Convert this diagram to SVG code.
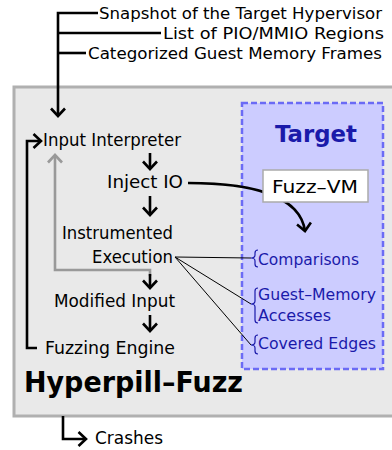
<svg xmlns="http://www.w3.org/2000/svg" width="392" height="450" viewBox="0 0 392 450">
<defs>
<style>
text{font-family:"DejaVu Sans","Liberation Sans",sans-serif;}
.t{font-size:17.5px;fill:#000;}
.top{font-size:16.3px;fill:#000;}
.b{font-size:16.5px;fill:#1a1aaa;}
.ln{fill:none;stroke:#000;stroke-width:2.6;}
.gl{fill:none;stroke:#999;stroke-width:2.6;}
.fan{fill:none;stroke:#000;stroke-width:1;}
.br{fill:none;stroke:#1a1aaa;stroke-width:1.2;}
</style>
<marker id="ah" viewBox="-10 -10 20 20" markerWidth="20" markerHeight="20" markerUnits="userSpaceOnUse" orient="auto" refX="0" refY="0">
<path d="M-7.5,-7 L0,0 L-7.5,7" fill="none" stroke="#000" stroke-width="2.6"/>
</marker>
<marker id="ahg" viewBox="-10 -10 20 20" markerWidth="20" markerHeight="20" markerUnits="userSpaceOnUse" orient="auto" refX="0" refY="0">
<path d="M-7.5,-7 L0,0 L-7.5,7" fill="none" stroke="#999" stroke-width="2.6"/>
</marker>
</defs>
<rect width="392" height="450" fill="#fff"/>
<g id="hyperpill-fuzz">
<rect x="14" y="87" width="392" height="329" fill="#e9e9e9" stroke="#b0b0b0" stroke-width="3"/>
<text x="24" y="392" font-size="29" font-weight="bold" textLength="219" lengthAdjust="spacingAndGlyphs">Hyperpill–Fuzz</text>
</g>
<g id="target">
<rect x="242" y="103" width="141" height="266" fill="#ccccff" stroke="#6b6bf5" stroke-width="2.5" stroke-dasharray="6,3"/>
<text x="275" y="142" font-size="23" font-weight="bold" fill="#1a1aaa" textLength="82" lengthAdjust="spacingAndGlyphs">Target</text>
</g>
<g id="connectors">
<path class="ln" d="M98,13 L58,13 L58,116" marker-end="url(#ah)"/>
<path class="ln" d="M161,33 L58,33"/>
<path class="ln" d="M86,53 L58,53"/>
<path class="ln" d="M37,348 L27,348 L27,141 L41,141" marker-end="url(#ah)"/>
<path class="gl" d="M150,276 L150,270 L55,270 L55,155" marker-end="url(#ahg)"/>
<path class="ln" d="M150,153 L150,169" marker-end="url(#ah)"/>
<path class="ln" d="M150,196 L150,215" marker-end="url(#ah)"/>
<path class="ln" d="M150,274 L150,288" marker-end="url(#ah)"/>
<path class="ln" d="M150,315 L150,331" marker-end="url(#ah)"/>
<path class="ln" d="M188,183 C250,183 300,195 305,231" marker-end="url(#ah)"/>
<path class="fan" d="M175,257 L251,258 M175,257 L251,304 M175,257 L251,345"/>
<path class="br" d="M258,250 Q255,250 255,253 L255,255 Q255,258 251,258 Q255,258 255,261 L255,264 Q255,267 258,267"/>
<path class="br" d="M258,288 Q255,288 255,291 L255,301 Q255,304 251,304 Q255,304 255,307 L255,320 Q255,323 258,323"/>
<path class="br" d="M258,335 Q255,335 255,338 L255,342 Q255,345 251,345 Q255,345 255,348 L255,351 Q255,354 258,354"/>
<path class="ln" d="M63,416 L63,439 L86,439" marker-end="url(#ah)"/>
</g>
<g id="snapshot"><text class="top" x="99" y="19" textLength="283" lengthAdjust="spacingAndGlyphs">Snapshot of the Target Hypervisor</text></g>
<g id="pio-list"><text class="top" x="163" y="39" textLength="221" lengthAdjust="spacingAndGlyphs">List of PIO/MMIO Regions</text></g>
<g id="memory-frames"><text class="top" x="88" y="59" textLength="294" lengthAdjust="spacingAndGlyphs">Categorized Guest Memory Frames</text></g>
<g id="input-interpreter"><text class="t" x="43" y="146" textLength="138" lengthAdjust="spacingAndGlyphs">Input Interpreter</text></g>
<g id="inject-io"><text class="t" x="107" y="188" textLength="76" lengthAdjust="spacingAndGlyphs">Inject IO</text></g>
<g id="instrumented-execution">
<text class="t" x="62" y="239" textLength="111" lengthAdjust="spacingAndGlyphs">Instrumented</text>
<text class="t" x="92" y="263" textLength="81" lengthAdjust="spacingAndGlyphs">Execution</text>
</g>
<g id="modified-input"><text class="t" x="54" y="307" textLength="121" lengthAdjust="spacingAndGlyphs">Modified Input</text></g>
<g id="fuzzing-engine"><text class="t" x="45" y="354" textLength="130" lengthAdjust="spacingAndGlyphs">Fuzzing Engine</text></g>
<g id="fuzz-vm">
<rect x="263" y="170" width="105" height="32" fill="#fff" stroke="#aaa" stroke-width="1.5"/>
<text class="t" x="272" y="193" textLength="86" lengthAdjust="spacingAndGlyphs">Fuzz–VM</text>
</g>
<g id="comparisons"><text class="b" x="258" y="265" textLength="101" lengthAdjust="spacingAndGlyphs">Comparisons</text></g>
<g id="guest-memory-accesses">
<text class="b" x="258" y="300" textLength="118" lengthAdjust="spacingAndGlyphs">Guest–Memory</text>
<text class="b" x="258" y="321" textLength="73" lengthAdjust="spacingAndGlyphs">Accesses</text>
</g>
<g id="covered-edges"><text class="b" x="258" y="349" textLength="118" lengthAdjust="spacingAndGlyphs">Covered Edges</text></g>
<g id="crashes"><text class="t" x="95" y="444" textLength="68" lengthAdjust="spacingAndGlyphs">Crashes</text></g>
</svg>
